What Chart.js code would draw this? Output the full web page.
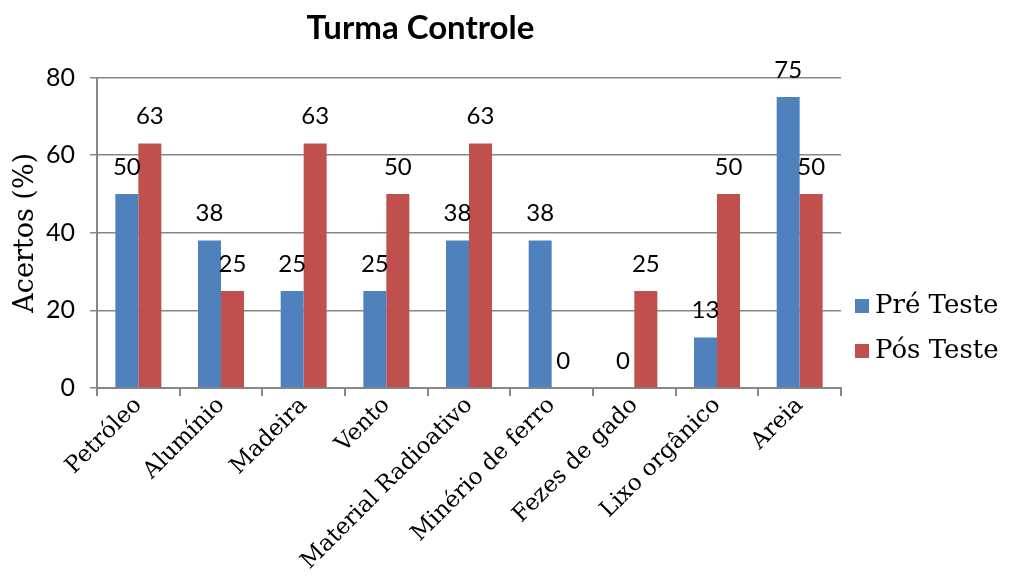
<!DOCTYPE html>
<html>
<head>
<meta charset="utf-8">
<script src="https://cdn.jsdelivr.net/npm/chart.js@4/dist/chart.umd.min.js"></script>
<style>
    html, body { margin: 0; padding: 0; background: #fff; }
    #wrap { width: 1014px; height: 579px; }
</style>
</head>
<body>
<div id="wrap"><canvas id="chart" width="1014" height="579"></canvas></div>
<script>
    // data
    var categories = ['Petróleo', 'Alumínio', 'Madeira', 'Vento', 'Material Radioativo', 'Minério de ferro', 'Fezes de gado', 'Lixo orgânico', 'Areia'];
    var preTeste = [50, 38, 25, 25, 38, 38, 0, 13, 75];
    var posTeste = [63, 25, 63, 50, 63, 0, 25, 50, 50];
    var yTicks = [0, 20, 40, 60, 80];

    var sans = 'Lato, sans-serif';
    var serif = '"DejaVu Serif", "Liberation Serif", serif';

    // value labels over the bars
    var valueLabels = {
        id: 'valueLabels',
        afterDatasetsDraw: function (chart) {
            var ctx = chart.ctx;
            ctx.save();
            ctx.font = '24px ' + sans;
            ctx.fillStyle = '#000';
            ctx.textAlign = 'center';
            ctx.textBaseline = 'middle';
            chart.data.datasets.forEach(function (ds, i) {
                chart.getDatasetMeta(i).data.forEach(function (bar, j) {
                    ctx.fillText(ds.data[j], bar.x, bar.y - 27);
                });
            });
            ctx.restore();
        }
    };

    // legend on the right, like the office chart
    var sideLegend = {
        id: 'sideLegend',
        afterDraw: function (chart) {
            var ctx = chart.ctx;
            ctx.save();
            ctx.font = '26px ' + serif;
            ctx.textBaseline = 'middle';
            ctx.textAlign = 'left';
            chart.data.datasets.forEach(function (ds, i) {
                var y = 306 + i * 45;
                ctx.fillStyle = ds.backgroundColor;
                ctx.fillRect(855, y - 7, 14, 14);
                ctx.fillStyle = '#000';
                ctx.fillText(ds.label, 875, y);
            });
            ctx.restore();
        }
    };

    new Chart(document.getElementById('chart'), {
        type: 'bar',
        data: {
            labels: categories,
            datasets: [
                {label: 'Pré Teste', data: preTeste, backgroundColor: '#4F81BD'},
                {label: 'Pós Teste', data: posTeste, backgroundColor: '#C0504D'}
            ]
        },
        options: {
            responsive: false,
            animation: false,
            layout: {padding: {left: 0, right: 173, top: 0, bottom: 0}},
            datasets: {
                bar: {categoryPercentage: 0.556, barPercentage: 1}
            },
            plugins: {
                legend: {display: false},
                tooltip: {enabled: false},
                title: {
                    display: true,
                    text: 'Turma Controle',
                    color: '#000',
                    font: {family: sans, size: 33, weight: 'bold'},
                    padding: {top: 9, bottom: 29}
                }
            },
            scales: {
                x: {
                    grid: {display: true, offset: true, drawOnChartArea: false, color: '#868686', tickLength: 8, lineWidth: 2},
                    border: {color: '#868686', width: 2},
                    ticks: {color: '#000', font: {family: serif, size: 23}, maxRotation: 45, minRotation: 45, padding: -4},
                    afterFit: function (scale) { scale.height = 191; }
                },
                y: {
                    min: 0,
                    max: 80,
                    afterBuildTicks: function (scale) {
                        scale.ticks = yTicks.map(function (v) { return {value: v}; });
                    },
                    grid: {color: '#868686', lineWidth: 1.5, tickLength: 7},
                    border: {color: '#868686', width: 2},
                    ticks: {color: '#000', font: {family: sans, size: 25}, padding: 15},
                    title: {display: true, text: 'Acertos (%)', color: '#000', font: {family: serif, size: 27}, padding: {top: 10, bottom: 0}},
                    afterFit: function (scale) { scale.width = 97; }
                }
            }
        },
        plugins: [valueLabels, sideLegend]
    });
</script>
</body>
</html>
